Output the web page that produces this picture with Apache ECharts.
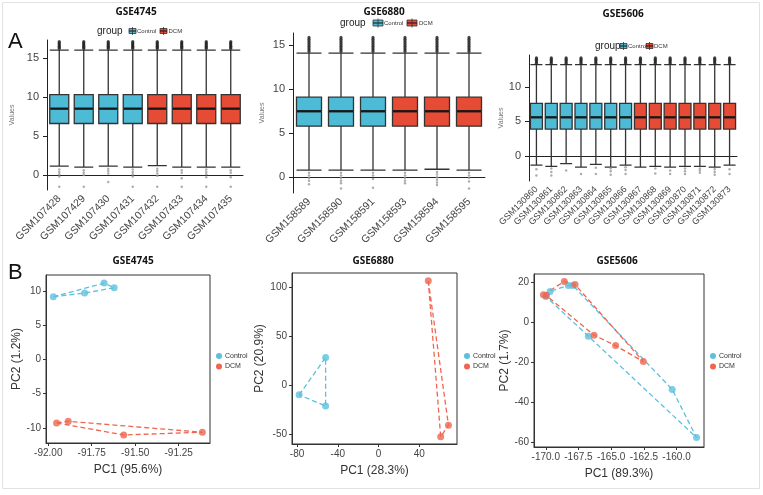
<!DOCTYPE html>
<html>
<head>
<meta charset="utf-8">
<script src="https://cdn.jsdelivr.net/npm/echarts@6.0.0/dist/echarts.min.js"></script>
<style>
  html, body { margin: 0; padding: 0; background: #fff; }
  #main { width: 763px; height: 495px; }
</style>
</head>
<body>
<div id="main"></div>
<script>
// ---------------- data ----------------
// A: boxplots, stats = [lower whisker, Q1, median, Q3, upper whisker]
const samples4745 = ['GSM107428', 'GSM107429', 'GSM107430', 'GSM107431', 'GSM107432', 'GSM107433', 'GSM107434', 'GSM107435'];
const groups4745 = ['Control', 'Control', 'Control', 'Control', 'DCM', 'DCM', 'DCM', 'DCM'];
const stats4745 = [
  [1.15, 6.6, 8.5, 10.3, 16.0], [1.0, 6.6, 8.5, 10.3, 16.0], [1.15, 6.6, 8.5, 10.3, 16.0], [1.0, 6.6, 8.5, 10.3, 16.0],
  [1.2, 6.6, 8.5, 10.3, 16.0], [1.0, 6.6, 8.5, 10.3, 16.0], [1.0, 6.6, 8.5, 10.3, 16.0], [1.0, 6.6, 8.5, 10.3, 16.0]
];
const hiOut4745 = [16.2, 16.35, 16.5, 16.65, 16.8, 16.95, 17.1];
const loOut4745 = [
  [0.7, 0.4, 0.1, -0.2, -1.5], [0.6, 0.3, 0.0, -1.5], [0.8, 0.5, 0.2, -0.9], [0.7, 0.4, 0.1, -0.2, -1.5],
  [0.8, 0.5, 0.2, -0.1, -1.5], [0.6, 0.3, -0.4, -1.5], [0.7, 0.4, 0.1, -0.3, -1.5], [0.6, 0.3, -0.3, -1.5]
];

const samples6880 = ['GSM158589', 'GSM158590', 'GSM158591', 'GSM158593', 'GSM158594', 'GSM158595'];
const groups6880 = ['Control', 'Control', 'Control', 'DCM', 'DCM', 'DCM'];
const stats6880 = [
  [0.8, 5.8, 7.5, 9.1, 14.1], [0.8, 5.8, 7.5, 9.1, 14.1], [0.8, 5.8, 7.5, 9.1, 14.1],
  [0.8, 5.8, 7.5, 9.1, 14.1], [0.9, 5.8, 7.5, 9.1, 14.1], [0.8, 5.8, 7.5, 9.1, 14.1]
];
const hiOut6880 = [14.3, 14.5, 14.7, 14.9, 15.1, 15.3, 15.5, 15.7, 15.9];
const loOut6880 = [
  [0.5, 0.2, -0.1, -0.4, -0.8], [0.5, 0.2, -0.1, -0.4, -0.7, -1.3], [0.5, 0.2, -0.2, -1.2],
  [0.5, 0.2, -0.1, -0.4, -0.7], [0.6, 0.3, 0.0, -0.3, -0.6, -0.9], [0.5, 0.2, -0.1, -0.5, -1.3]
];

const samples5606 = ['GSM130860', 'GSM130861', 'GSM130862', 'GSM130863', 'GSM130864', 'GSM130865', 'GSM130866',
  'GSM130867', 'GSM130868', 'GSM130869', 'GSM130870', 'GSM130871', 'GSM130872', 'GSM130873'];
const groups5606 = ['Control', 'Control', 'Control', 'Control', 'Control', 'Control', 'Control',
  'DCM', 'DCM', 'DCM', 'DCM', 'DCM', 'DCM', 'DCM'];
const stats5606 = [
  [-1.3, 3.9, 5.6, 7.6, 13.2], [-1.5, 3.9, 5.6, 7.6, 13.2], [-1.1, 3.9, 5.6, 7.6, 13.2], [-1.6, 3.9, 5.6, 7.6, 13.2],
  [-1.2, 3.9, 5.6, 7.6, 13.2], [-1.6, 3.9, 5.6, 7.6, 13.2], [-1.3, 3.9, 5.6, 7.6, 13.2], [-1.6, 3.9, 5.6, 7.6, 13.2],
  [-1.5, 3.9, 5.6, 7.6, 13.2], [-1.6, 3.9, 5.6, 7.6, 13.2], [-1.5, 3.9, 5.6, 7.6, 13.2], [-1.5, 3.9, 5.6, 7.6, 13.2],
  [-1.6, 3.9, 5.6, 7.6, 13.2], [-1.3, 3.9, 5.6, 7.6, 13.2]
];
const hiOut5606 = [13.4, 13.6, 13.8, 14.0, 14.2];
const loOut5606 = [
  [-1.9, -2.8], [-1.8, -2.3, -2.8], [-2.1], [-2.6], [-1.7, -2.6], [-1.8, -2.2, -2.7], [-1.6, -2.0, -2.6],
  [], [-1.8, -2.5], [-2.1, -2.6], [-1.8, -2.2, -2.6], [-1.8, -2.1, -2.4], [-1.9, -2.3, -2.7], [-1.9, -2.6]
];

// B: PCA scores [PC1, PC2]; hull = polygon order by point index
const pca4745Ctrl = [[-91.971, 9.17], [-91.791, 9.71], [-91.679, 11.17], [-91.621, 10.49]];
const pca4745Dcm = [[-91.952, -9.27], [-91.885, -9.03], [-91.566, -11.02], [-91.114, -10.63]];
const hull4745Ctrl = [0, 2, 3, 1, 0];
const hull4745Dcm = [0, 1, 3, 2, 0];

const pca6880Ctrl = [[-78, -10], [-52, 28], [-52, -21.4]];
const pca6880Dcm = [[48.8, 106], [61, -52.7], [68.6, -40.8]];
const hull6880Ctrl = [0, 1, 2, 0];
const hull6880Dcm = [0, 2, 1, 0];

const pca5606Ctrl = [[-170.0, 12.8], [-169.67, 15.3], [-168.27, 18.3], [-167.94, 18.3], [-166.74, -7.1], [-160.33, -33.7], [-158.47, -57.8]];
const pca5606Dcm = [[-170.18, 13.6], [-169.95, 13.2], [-168.58, 20.3], [-167.76, 18.7], [-166.31, -6.6], [-164.66, -11.8], [-162.54, -19.8]];
const hull5606Ctrl = [0, 1, 2, 3, 5, 6, 4, 0];
const hull5606Dcm = [0, 2, 3, 6, 5, 4, 1, 0];

// ---------------- chart ----------------
const FONT = 'Liberation Sans';
const BOX_CTRL = '#4DBBD5', BOX_DCM = '#E64B35';
const PT_CTRL = '#5BC0DE', PT_DCM = '#EE6650';

const grids = [], xAxes = [], yAxes = [], series = [], graphics = [];

function label(text, x, y, font, opts) {
  graphics.push(Object.assign({
    type: 'text', x: x, y: y, silent: true,
    style: { text: text, font: font, fill: '#222', textAlign: 'left', textVerticalAlign: 'middle' }
  }, opts || {}));
}

function boxPanel(p) {
  const gi = grids.length;
  grids.push({ left: p.left, top: p.top, width: p.width, height: p.height });
  xAxes.push({
    type: 'category', gridIndex: gi, data: p.samples,
    axisLine: { lineStyle: { color: '#222' } },
    axisTick: { alignWithLabel: true, length: 4, lineStyle: { color: '#222' } },
    axisLabel: { rotate: 45, interval: 0, fontSize: p.labelSize, color: '#444', margin: 7, fontFamily: FONT },
    splitLine: { show: false }
  });
  yAxes.push({
    type: 'value', gridIndex: gi, min: p.yMin, max: p.yMax,
    name: 'Values', nameLocation: 'middle', nameGap: p.nameGap,
    nameTextStyle: { fontSize: 7, color: '#777', fontFamily: FONT },
    axisLine: { show: true, onZero: false, lineStyle: { color: '#222' } },
    axisTick: { show: true, length: 4, customValues: p.yTicks, lineStyle: { color: '#222' } },
    axisLabel: { customValues: p.yTicks, fontSize: 11, color: '#444', fontFamily: FONT },
    splitLine: { show: false }
  });
  series.push({
    type: 'boxplot', xAxisIndex: gi, yAxisIndex: gi, boxWidth: [p.boxW, p.boxW],
    itemStyle: { borderColor: '#333', borderWidth: 1.3 },
    data: p.stats.map((s, i) => ({ value: s, itemStyle: { color: p.groups[i] === 'Control' ? BOX_CTRL : BOX_DCM } }))
  });
  series.push({
    type: 'scatter', xAxisIndex: gi, yAxisIndex: gi, symbol: 'rect', symbolSize: [p.boxW - 1, 2.5], z: 5,
    itemStyle: { color: '#111' },
    data: p.stats.map((s, i) => [i, s[2]])
  });
  series.push({
    type: 'scatter', xAxisIndex: gi, yAxisIndex: gi, symbolSize: 3.2, z: 4,
    itemStyle: { color: '#222' },
    data: p.samples.flatMap((_, i) => p.hiOut.map(v => [i, v]))
  });
  series.push({
    type: 'scatter', xAxisIndex: gi, yAxisIndex: gi, symbolSize: 2.5, z: 4,
    itemStyle: { color: '#999' },
    data: p.loOut.flatMap((vals, i) => vals.map(v => [i, v]))
  });
  // title and legend
  label(p.title, p.titleX, p.titleY, 'bold 10px "Noto Sans"', { style: { text: p.title, font: 'bold 10px "Noto Sans"', fill: '#111', textAlign: 'center', textVerticalAlign: 'middle' } });
  const L = p.legend;
  label('group', L.x, L.y, '10px ' + FONT);
  [[L.i1, BOX_CTRL, 'Control', L.t1], [L.i2, BOX_DCM, 'DCM', L.t2]].forEach(([ix, col, name, tx]) => {
    graphics.push({ type: 'rect', silent: true, shape: { x: ix, y: L.y - L.h / 2, width: L.w, height: L.h }, style: { fill: col, stroke: '#333', lineWidth: 0.8 } });
    graphics.push({ type: 'line', silent: true, shape: { x1: ix, y1: L.y, x2: ix + L.w, y2: L.y }, style: { stroke: '#111', lineWidth: 1 } });
    graphics.push({ type: 'line', silent: true, shape: { x1: ix + L.w / 2, y1: L.y - L.h / 2 - 1.5, x2: ix + L.w / 2, y2: L.y + L.h / 2 + 1.5 }, style: { stroke: '#333', lineWidth: 0.8 } });
    label(name, tx, L.y, '6px ' + FONT, { style: { text: name, font: '6px ' + FONT, fill: '#333', textAlign: 'left', textVerticalAlign: 'middle' } });
  });
}

function pcaPanel(p) {
  const gi = grids.length;
  grids.push({ left: p.left, top: p.top, width: p.width, height: p.height, show: true, borderColor: '#333', borderWidth: 1, backgroundColor: '#fff' });
  xAxes.push({
    type: 'value', gridIndex: gi, min: p.xMin, max: p.xMax,
    name: p.xName, nameLocation: 'middle', nameGap: 21,
    nameTextStyle: { fontSize: 12, color: '#333', fontFamily: FONT },
    axisLine: { show: true, onZero: false, lineStyle: { color: '#333' } },
    axisTick: { show: true, length: 3, customValues: p.xTicks, lineStyle: { color: '#333' } },
    axisLabel: { customValues: p.xTicks, fontSize: 10, color: '#444', margin: 5, fontFamily: FONT, formatter: v => v.toFixed(p.xDec) },
    splitLine: { show: false }
  });
  yAxes.push({
    type: 'value', gridIndex: gi, min: p.yMin, max: p.yMax,
    name: p.yName, nameLocation: 'middle', nameGap: p.yNameGap,
    nameTextStyle: { fontSize: 12, color: '#333', fontFamily: FONT },
    axisLine: { show: true, onZero: false, lineStyle: { color: '#333' } },
    axisTick: { show: true, length: 3, customValues: p.yTicks, lineStyle: { color: '#333' } },
    axisLabel: { customValues: p.yTicks, fontSize: 10, color: '#444', margin: 5, fontFamily: FONT },
    splitLine: { show: false }
  });
  [[p.ctrl, p.hullCtrl, PT_CTRL], [p.dcm, p.hullDcm, PT_DCM]].forEach(([pts, hull, col]) => {
    series.push({
      type: 'line', xAxisIndex: gi, yAxisIndex: gi, symbol: 'none', silent: true,
      lineStyle: { color: col, width: 1.3, type: [5, 3] },
      data: hull.map(k => pts[k])
    });
    series.push({
      type: 'scatter', xAxisIndex: gi, yAxisIndex: gi, symbolSize: 7, z: 5,
      itemStyle: { color: col },
      data: pts
    });
  });
  label(p.title, p.titleX, 261, '', { style: { text: p.title, font: 'bold 10px "Noto Sans"', fill: '#111', textAlign: 'center', textVerticalAlign: 'middle' } });
  [[PT_CTRL, 'Control', 356], [PT_DCM, 'DCM', 366.5]].forEach(([col, name, y]) => {
    graphics.push({ type: 'circle', silent: true, shape: { cx: p.legX, cy: y, r: 3 }, style: { fill: col } });
    label(name, p.legX + 6, y, '7px ' + FONT, { style: { text: name, font: '7px ' + FONT, fill: '#333', textAlign: 'left', textVerticalAlign: 'middle' } });
  });
}

// page frame and panel letters
graphics.push({ type: 'rect', silent: true, z: -10, shape: { x: 2.5, y: 2.5, width: 757, height: 486 }, style: { fill: 'none', stroke: '#e2e2e2', lineWidth: 1 } });
label('A', 8, 42, '22px ' + FONT, { style: { text: 'A', font: '22px ' + FONT, fill: '#111', textAlign: 'left', textVerticalAlign: 'middle' } });
label('B', 8, 273, '22px ' + FONT, { style: { text: 'B', font: '22px ' + FONT, fill: '#111', textAlign: 'left', textVerticalAlign: 'middle' } });

boxPanel({
  title: 'GSE4745', titleX: 136, titleY: 12,
  left: 47, top: 40, width: 196, height: 150, yMin: -1.92, yMax: 17.3, yTicks: [0, 5, 10, 15],
  nameGap: 31, labelSize: 10.5, boxW: 19,
  samples: samples4745, groups: groups4745, stats: stats4745, hiOut: hiOut4745, loOut: loOut4745,
  legend: { x: 97, y: 31, i1: 129, t1: 137, i2: 160, t2: 168.5, w: 7, h: 5 }
});
boxPanel({
  title: 'GSE6880', titleX: 384, titleY: 12,
  left: 293, top: 33, width: 192, height: 160, yMin: -1.8, yMax: 16.4, yTicks: [0, 5, 10, 15],
  nameGap: 27, labelSize: 10.5, boxW: 25,
  samples: samples6880, groups: groups6880, stats: stats6880, hiOut: hiOut6880, loOut: loOut6880,
  legend: { x: 340, y: 23, i1: 373, t1: 384, i2: 407, t2: 419, w: 10, h: 6 }
});
boxPanel({
  title: 'GSE5606', titleX: 623, titleY: 14,
  left: 529, top: 55, width: 208, height: 126, yMin: -3.6, yMax: 14.6, yTicks: [0, 5, 10],
  nameGap: 20, labelSize: 9, boxW: 12,
  samples: samples5606, groups: groups5606, stats: stats5606, hiOut: hiOut5606, loOut: loOut5606,
  legend: { x: 595, y: 46, i1: 620, t1: 628, i2: 646, t2: 654, w: 7, h: 5 }
});

pcaPanel({
  title: 'GSE4745', titleX: 133, legX: 219,
  left: 46, top: 275, width: 164, height: 168,
  xMin: -92.013, xMax: -91.07, xTicks: [-92, -91.75, -91.5, -91.25], xDec: 2,
  yMin: -12.2, yMax: 12.35, yTicks: [-10, -5, 0, 5, 10],
  xName: 'PC1 (95.6%)', yName: 'PC2 (1.2%)', yNameGap: 22,
  ctrl: pca4745Ctrl, dcm: pca4745Dcm, hullCtrl: hull4745Ctrl, hullDcm: hull4745Dcm
});
pcaPanel({
  title: 'GSE6880', titleX: 373, legX: 467,
  left: 292, top: 273, width: 165, height: 171,
  xMin: -85, xMax: 77, xTicks: [-80, -40, 0, 40], xDec: 0,
  yMin: -60, yMax: 114, yTicks: [-50, 0, 50, 100],
  xName: 'PC1 (28.3%)', yName: 'PC2 (20.9%)', yNameGap: 26,
  ctrl: pca6880Ctrl, dcm: pca6880Dcm, hullCtrl: hull6880Ctrl, hullDcm: hull6880Dcm
});
pcaPanel({
  title: 'GSE5606', titleX: 617, legX: 713,
  left: 534, top: 274, width: 170, height: 173,
  xMin: -170.9, xMax: -157.9, xTicks: [-170, -167.5, -165, -162.5, -160], xDec: 1,
  yMin: -62.5, yMax: 24, yTicks: [-60, -40, -20, 0, 20],
  xName: 'PC1 (89.3%)', yName: 'PC2 (1.7%)', yNameGap: 23,
  ctrl: pca5606Ctrl, dcm: pca5606Dcm, hullCtrl: hull5606Ctrl, hullDcm: hull5606Dcm
});

const chart = echarts.init(document.getElementById('main'), null, { renderer: 'canvas' });
chart.setOption({
  animation: false,
  backgroundColor: '#fff',
  textStyle: { fontFamily: FONT },
  grid: grids,
  xAxis: xAxes,
  yAxis: yAxes,
  series: series,
  graphic: graphics
});
</script>
</body>
</html>
